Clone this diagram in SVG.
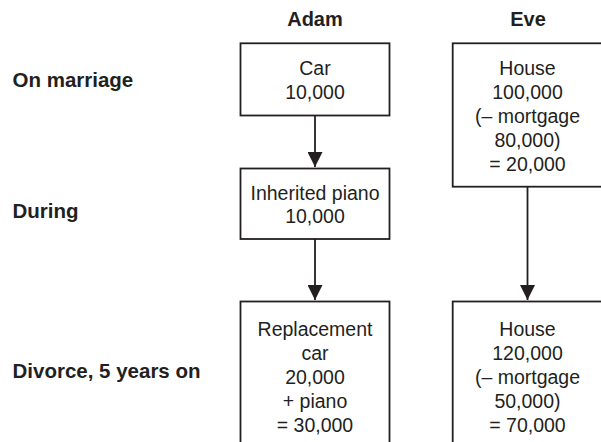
<svg xmlns="http://www.w3.org/2000/svg" width="601" height="442" viewBox="0 0 601 442">
<style>
.box{fill:#fff;stroke:#231f20;stroke-width:1.8}
.t{font-family:"Liberation Sans",Arial,sans-serif;font-size:19.5px;fill:#231f20;text-anchor:middle}
.h{font-family:"Liberation Sans",Arial,sans-serif;font-size:20px;font-weight:bold;fill:#231f20;text-anchor:middle}
.l{font-family:"Liberation Sans",Arial,sans-serif;font-size:20.5px;font-weight:bold;fill:#231f20}
.c{stroke:#231f20;stroke-width:1.8;fill:none}
</style>
<defs>
<marker id="ah" viewBox="0 0 15 15" refX="15" refY="7.5" markerWidth="15" markerHeight="15" markerUnits="userSpaceOnUse" orient="auto">
<path d="M0,0 L15,7.5 L0,15 Z" fill="#231f20"/>
</marker>
</defs>
<rect width="601" height="442" fill="#fff"/>
<g id="headers">
<text class="h" x="315" y="26">Adam</text>
<text class="h" x="528" y="26">Eve</text>
</g>
<g id="row-labels">
<text class="l" x="12.5" y="87">On marriage</text>
<text class="l" x="12.5" y="218">During</text>
<text class="l" x="12.5" y="378">Divorce, 5 years on</text>
</g>
<g id="connectors">
<line class="c" x1="315" y1="115.5" x2="315" y2="167" marker-end="url(#ah)"/>
<line class="c" x1="315" y1="239" x2="315" y2="300" marker-end="url(#ah)"/>
<line class="c" x1="527.5" y1="186.7" x2="527.5" y2="300" marker-end="url(#ah)"/>
</g>
<g id="adam-car">
<rect class="box" x="240.5" y="43.3" width="149" height="72.2"/>
<text class="t" x="315" y="75">Car</text>
<text class="t" x="315" y="99">10,000</text>
</g>
<g id="eve-house">
<rect class="box" x="452.7" y="43.3" width="152" height="143.4"/>
<text class="t" x="527.5" y="75">House</text>
<text class="t" x="527.5" y="99">100,000</text>
<text class="t" x="527.5" y="123">(– mortgage</text>
<text class="t" x="527.5" y="147">80,000)</text>
<text class="t" x="527.5" y="171">= 20,000</text>
</g>
<g id="adam-piano">
<rect class="box" x="240.5" y="168.5" width="149" height="70.5"/>
<text class="t" x="315" y="200">Inherited piano</text>
<text class="t" x="315" y="223">10,000</text>
</g>
<g id="adam-divorce">
<rect class="box" x="240.5" y="301.5" width="149" height="160"/>
<text class="t" x="315" y="336">Replacement</text>
<text class="t" x="315" y="360">car</text>
<text class="t" x="315" y="384">20,000</text>
<text class="t" x="315" y="408">+ piano</text>
<text class="t" x="315" y="432">= 30,000</text>
</g>
<g id="eve-divorce">
<rect class="box" x="452.7" y="301.5" width="152" height="160"/>
<text class="t" x="527.5" y="336">House</text>
<text class="t" x="527.5" y="360">120,000</text>
<text class="t" x="527.5" y="384">(– mortgage</text>
<text class="t" x="527.5" y="408">50,000)</text>
<text class="t" x="527.5" y="432">= 70,000</text>
</g>
</svg>
